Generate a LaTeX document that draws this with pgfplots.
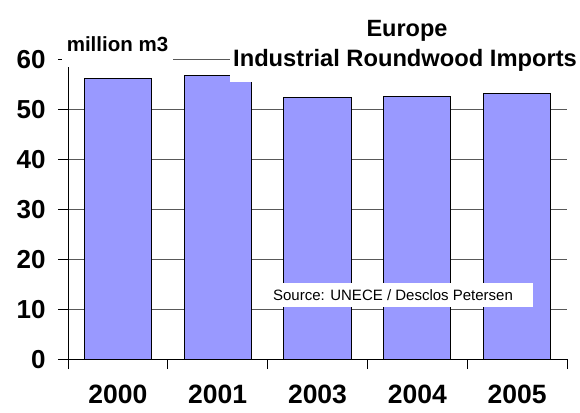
\documentclass[border=0pt]{standalone}
\usepackage{fontspec}
\setmainfont{Liberation Sans}
\usepackage{pgfplots}
\pgfplotsset{compat=1.18}
\definecolor{barfill}{RGB}{153,153,255}
\begin{document}
\begin{tikzpicture}[x=1pt,y=1pt]
\useasboundingbox (-68,-53) rectangle (512,359);
\begin{axis}[
  at={(0,0)}, anchor=south west,
  width=499pt, height=300pt, scale only axis,
  ymin=0, ymax=60, xmin=-0.5, xmax=4.5,
  axis lines*=left,
  axis line style={black, line width=0.8pt},
  ytick={0,10,...,60},
  ymajorgrids,
  grid style={black!65, line width=0.6pt},
  tick align=outside,
  major tick length=10pt,
  tick style={black, line width=0.8pt},
  xtick={-0.5,0.5,...,4.5},
  xticklabels={2000,2001,2003,2004,2005,{}},
  xticklabel style={xshift=49.9pt, yshift=-16pt, inner sep=0pt, font=\fontsize{26.5}{26.5}\selectfont\bfseries},
  yticklabel style={xshift=-9pt, yshift=-1pt, font=\fontsize{26}{26}\selectfont\bfseries},
  /pgf/number format/assume math mode=true,
  clip=false,
]
\addplot[ybar, bar width=67pt, fill=barfill, draw=black, line width=1pt]
  coordinates {(0,56.1) (1,56.7) (2,52.3) (3,52.5) (4,53.1)};
\end{axis}
\fill[white] (162,277) rectangle (512,359);
\fill[white] (-6,292) rectangle (105,359);
\fill[white] (185,52) rectangle (465,76);
\node[anchor=base, font=\fontsize{23.5}{24}\selectfont\bfseries, inner sep=0] at (339,322) {Europe};
\node[anchor=base, font=\fontsize{23.7}{24}\selectfont\bfseries, inner sep=0] at (337,292) {Industrial Roundwood Imports};
\node[anchor=base, font=\fontsize{20.5}{21}\selectfont\bfseries, inner sep=0] at (49.5,307) {million m3};
\node[anchor=center, font=\fontsize{15}{15}\selectfont, inner sep=0] at (325,64) {Source: UNECE / Desclos Petersen};
\end{tikzpicture}
\end{document}
